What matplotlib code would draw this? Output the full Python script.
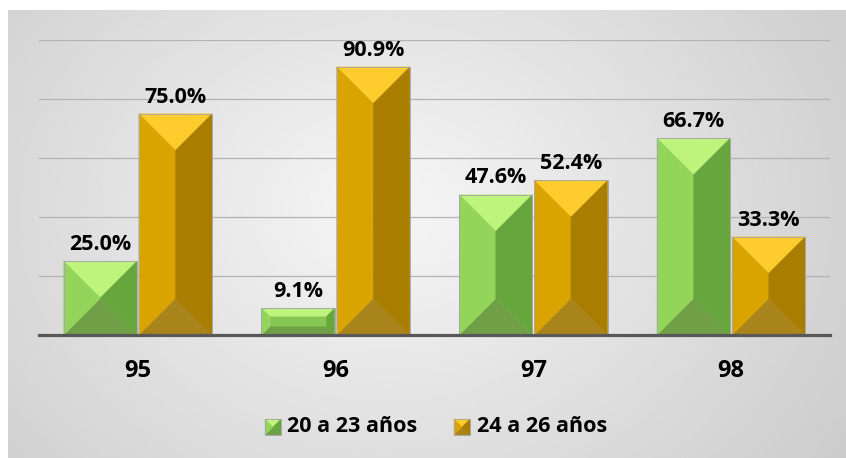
"""
plot.py

Beveled grouped bar chart: share by age group per year.
"""

import numpy as np
import matplotlib
matplotlib.use("Agg")
import matplotlib.pyplot as plt
from matplotlib.patches import Polygon
from matplotlib import font_manager


# ==========================================================
# Data
# ==========================================================

years = ["95", "96", "97", "98"]

series_names = ["20 a 23 años", "24 a 26 años"]

young = [25.0, 9.1, 47.6, 66.7]

older = [75.0, 90.9, 52.4, 33.3]


# ==========================================================
# Style
# ==========================================================

def pick_bold_family(candidates):

    for fam in candidates:
        for f in font_manager.fontManager.ttflist:
            if f.name != fam or f.style != "normal":
                continue
            w = f.weight
            if isinstance(w, str):
                w = font_manager.weight_dict.get(w, 400)
            if w == 700:
                return fam

    return "DejaVu Sans"


main_font = pick_bold_family(["Open Sans", "Lato", "Noto Sans", "Liberation Sans"])

plt.rcParams["font.family"] = [main_font, "DejaVu Sans"]
plt.rcParams["font.weight"] = "bold"

W, H = 846, 458

green = {
    "top": "#bff47c",
    "left": "#92d55a",
    "right": "#67a63c",
    "bottom": "#709f47",
    "front": "#86c652",
}

gold = {
    "top": "#ffcc2e",
    "left": "#d9a300",
    "right": "#a97e00",
    "bottom": "#a8841a",
    "front": "#c99600",
}


# ==========================================================
# Beveled bar
# ==========================================================

def bevel_bar(ax, x0, y0, w, h, colors, sx, sy, zorder=3):

    w_px = w * sx
    h_px = h * sy

    if h_px >= w_px * 0.9:
        d_px = min(w_px / 2, h_px / 2)
    else:
        d_px = min(w_px / 2, h_px * 0.3)

    dx = d_px / sx
    dy = d_px / sy

    x1 = x0 + w
    y1 = y0 + h

    bl, br, tr, tl = (x0, y0), (x1, y0), (x1, y1), (x0, y1)
    ibl, ibr = (x0 + dx, y0 + dy), (x1 - dx, y0 + dy)
    itr, itl = (x1 - dx, y1 - dy), (x0 + dx, y1 - dy)

    faces = [
        ([ibl, ibr, itr, itl], colors["front"]),
        ([tl, tr, itr, itl], colors["top"]),
        ([bl, br, ibr, ibl], colors["bottom"]),
        ([bl, tl, itl, ibl], colors["left"]),
        ([br, tr, itr, ibr], colors["right"]),
    ]

    for pts, c in faces:
        ax.add_patch(Polygon(pts, closed=True, facecolor=c,
                             edgecolor=c, linewidth=0.3, zorder=zorder))

    ax.add_patch(Polygon([bl, br, tr, tl], closed=True, fill=False,
                         edgecolor="#a8a8a8", linewidth=0.7,
                         zorder=zorder + 0.1))


# ==========================================================
# Figure + background
# ==========================================================

fig = plt.figure(figsize=(W / 100, H / 100), dpi=100)
fig.patch.set_facecolor("white")

bg = fig.add_axes([8 / W, 0, 1 - 8 / W, 1 - 10 / H], zorder=-5)
gx, gy = np.meshgrid(np.linspace(0, 1, 300), np.linspace(1, 0, 200))
r = np.sqrt(((gx - 0.45) / 0.6) ** 2 + ((gy - 0.55) / 0.9) ** 2)
shade = np.clip(0.965 - 0.15 * r, 0, 1)
bg.imshow(shade, cmap="gray", vmin=0, vmax=1, aspect="auto",
          extent=(0, 1, 0, 1), interpolation="bilinear")
bg.set_xlim(0, 1)
bg.set_ylim(0, 1)
bg.axis("off")


# ==========================================================
# Chart axes
# ==========================================================

ax_left, ax_right = 39, 830
ax_top, ax_base = 40, 335

ax = fig.add_axes([
    ax_left / W,
    1 - ax_base / H,
    (ax_right - ax_left) / W,
    (ax_base - ax_top) / H,
])
ax.patch.set_alpha(0)

x = np.arange(len(years))
ax.set_xlim(-0.5, len(years) - 0.5)
ax.set_ylim(0, 100)

sx = (ax_right - ax_left) / len(years)
sy = (ax_base - ax_top) / 100.0

bar_w = 0.37
offset = 0.19

for i in range(len(years)):

    for val, off, cols in [(young[i], -offset, green), (older[i], offset, gold)]:

        xc = x[i] + off

        bevel_bar(ax, xc - bar_w / 2, 0, bar_w, val, cols, sx, sy)

        ax.annotate(f"{val:.1f}%", (xc, val), xytext=(0, 8),
                    textcoords="offset points", ha="center",
                    va="baseline", fontsize=15.5, fontweight="bold",
                    color="black", zorder=6)

ax.set_yticks(np.arange(20, 101, 20))
ax.yaxis.grid(True, color="#b3b3b3", linewidth=0.9, zorder=0)
ax.set_axisbelow(True)
ax.tick_params(axis="y", length=0, labelleft=False)

ax.set_xticks(x)
ax.set_xticklabels(years, fontsize=17, fontweight="bold")
ax.tick_params(axis="x", length=0, pad=17)

for side in ["top", "right", "left"]:
    ax.spines[side].set_visible(False)

ax.spines["bottom"].set_color("#585858")
ax.spines["bottom"].set_linewidth(2.3)
ax.spines["bottom"].set_zorder(5)


# ==========================================================
# Legend
# ==========================================================

lg = fig.add_axes([0, 0, 1, 1], zorder=4)
lg.set_xlim(0, W)
lg.set_ylim(0, H)
lg.axis("off")

legend_items = [(265, 287, green), (454, 477, gold)]

for (mx, tx, cols), name in zip(legend_items, series_names):

    bevel_bar(lg, mx, H - 435, 16, 16, cols, 1, 1)

    lg.text(tx, H - 427, name, ha="left", va="center",
            fontsize=15.5, fontweight="bold", color="black")


plt.savefig("out.png", dpi=100)

plt.close()
